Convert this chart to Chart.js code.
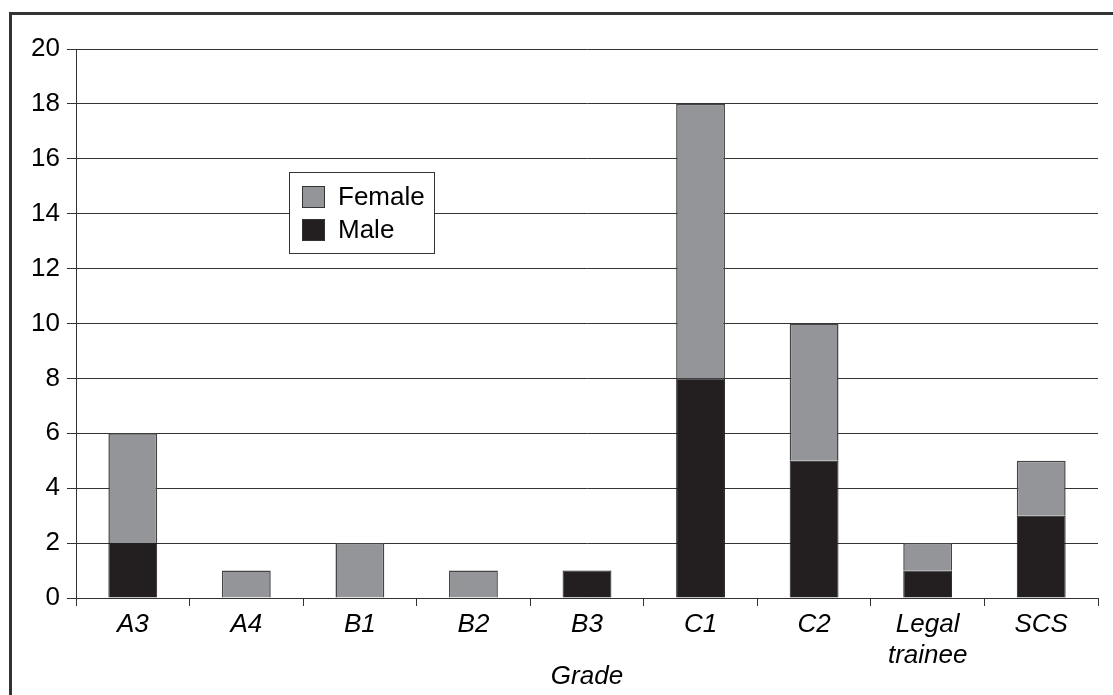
<!DOCTYPE html>
<html>
<head>
<meta charset="utf-8">
<script src="https://cdn.jsdelivr.net/npm/chart.js@4/dist/chart.umd.min.js"></script>
<style>
  body { margin: 0; background: #fff; }
  #wrap { position: relative; width: 1113px; height: 695px; overflow: hidden; }
  #marco { position: absolute; left: 9px; top: 12px; width: 1200px; height: 800px;
           border-top: 3px solid #333; border-left: 3px solid #333; box-sizing: border-box; }
  canvas { position: absolute; left: 0; top: 0; }
</style>
</head>
<body>
<div id="wrap">
  <div id="marco"></div>
  <canvas id="grafica" width="1113" height="695"></canvas>
</div>
<script>
// datos
const grados = ['A3', 'A4', 'B1', 'B2', 'B3', 'C1', 'C2', ['Legal', 'trainee'], 'SCS'];
const hombres = [2, 0, 0, 0, 1, 8, 5, 1, 3];
const mujeres = [4, 1, 2, 1, 0, 10, 5, 1, 2];
const marcasY = [0, 2, 4, 6, 8, 10, 12, 14, 16, 18, 20];

const fuente = '"Liberation Sans", Arial, sans-serif';
const lineaGris = '#333333';

// leyenda dibujada dentro del area del grafico
const leyendaCaja = {
  id: 'leyendaCaja',
  afterDraw(chart) {
    const ctx = chart.ctx;
    const a = chart.chartArea;
    const x = a.left + 213, y = a.top + 123;
    ctx.save();
    ctx.fillStyle = '#fff';
    ctx.fillRect(x, y, 145, 81);
    ctx.strokeStyle = lineaGris;
    ctx.lineWidth = 1;
    ctx.strokeRect(x + 0.5, y + 0.5, 145, 81);
    // Female arriba, Male abajo
    const orden = [1, 0];
    ctx.font = '26px ' + fuente;
    ctx.textBaseline = 'middle';
    orden.forEach((i, k) => {
      const ds = chart.data.datasets[i];
      const sy = y + 14 + k * 33;
      ctx.fillStyle = ds.backgroundColor;
      ctx.fillRect(x + 13, sy, 23, 22);
      ctx.strokeStyle = lineaGris;
      ctx.strokeRect(x + 13.5, sy + 0.5, 22, 21);
      ctx.fillStyle = '#000';
      ctx.fillText(ds.label, x + 49, sy + 12);
    });
    ctx.restore();
  }
};

new Chart(document.getElementById('grafica'), {
  type: 'bar',
  data: {
    labels: grados,
    datasets: [
      { label: 'Male', data: hombres, backgroundColor: '#231f20', borderColor: '#231f20', borderWidth: 1 },
      { label: 'Female', data: mujeres, backgroundColor: '#939598', borderColor: '#444444', borderWidth: 1.5 }
    ]
  },
  options: {
    responsive: false,
    animation: false,
    layout: { padding: { top: 49, right: 15, left: 0, bottom: 0 } },
    datasets: { bar: { categoryPercentage: 1, barPercentage: 0.43 } },
    plugins: { legend: { display: false }, tooltip: { enabled: false } },
    scales: {
      x: {
        stacked: true,
        afterFit(s) { s.height = 97; },
        grid: { drawOnChartArea: false, tickLength: 8, color: lineaGris },
        border: { color: lineaGris, width: 1 },
        ticks: { color: '#000', padding: 3, font: { family: fuente, size: 26, style: 'italic' } },
        title: { display: true, text: 'Grade', color: '#000', padding: { top: 0, bottom: 3 },
                 font: { family: fuente, size: 26, style: 'italic' } }
      },
      y: {
        stacked: true,
        min: 0,
        max: 20,
        afterFit(s) { s.width = 76; },
        afterBuildTicks(s) { s.ticks = marcasY.map(v => ({ value: v })); },
        grid: { color: lineaGris, tickLength: 9 },
        border: { color: lineaGris, width: 1 },
        ticks: { color: '#000', padding: 7, font: { family: fuente, size: 26 } }
      }
    }
  },
  plugins: [leyendaCaja]
});
</script>
</body>
</html>
